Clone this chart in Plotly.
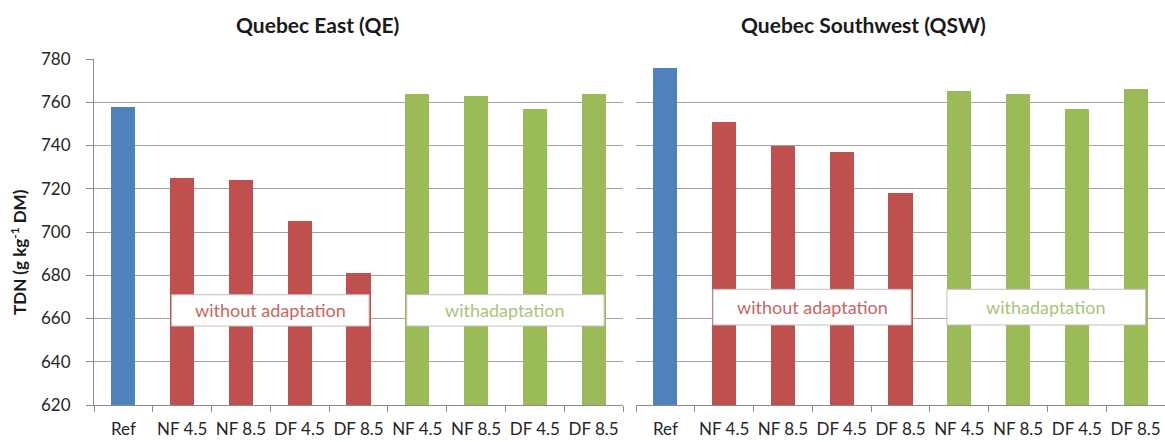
import plotly.graph_objects as go

# Scenario labels along each x axis
scenarios = ["Ref", "NF 4.5", "NF 8.5", "DF 4.5", "DF 8.5",
             "NF 4.5", "NF 8.5", "DF 4.5", "DF 8.5"]
# Group of each bar: reference, without adaptation, with adaptation
groups = ["ref", "without", "without", "without", "without",
          "with", "with", "with", "with"]

# TDN (g kg-1 DM) per scenario
tdn_qe = [758, 725, 724, 705, 681, 764, 763, 757, 764]
tdn_qsw = [776, 751, 740, 737, 718, 765, 764, 757, 766]

panel_titles = ["Quebec East (QE)", "Quebec Southwest (QSW)"]
box_labels = ["without adaptation", "withadaptation"]
y_ticks = [620, 640, 660, 680, 700, 720, 740, 760, 780]

group_colors = {"ref": "#4F81BD", "without": "#C0504D", "with": "#9BBB59"}
bar_colors = [group_colors[g] for g in groups]

W, H = 1165, 442
FONT = "Lato"
GRID = "#a3a3a3"
AXIS = "#8c8c8c"
TEXT = "#262626"


def px_x(p):
    return p / W


def px_y(p):
    return 1 - p / H


fig = go.Figure()
idx = list(range(len(scenarios)))
fig.add_trace(go.Bar(x=idx, y=tdn_qe, marker=dict(color=bar_colors, line=dict(width=0)),
                     width=0.41, xaxis="x", yaxis="y", showlegend=False))
fig.add_trace(go.Bar(x=idx, y=tdn_qsw, marker=dict(color=bar_colors, line=dict(width=0)),
                     width=0.41, xaxis="x2", yaxis="y2", showlegend=False))

ydom = [px_y(405), px_y(59)]
xaxis_common = dict(
    range=[-0.5, len(scenarios) - 0.5],
    tickmode="array", tickvals=idx, ticktext=scenarios,
    ticks="", showgrid=False, zeroline=False, automargin=False,
    showline=True, linecolor=AXIS, linewidth=1,
    ticklabelstandoff=9,
    tickfont=dict(family=FONT, size=17, color=TEXT),
    minor=dict(tickmode="array", tickvals=[i - 0.5 for i in range(len(scenarios) + 1)],
               ticks="outside", ticklen=6, tickcolor=AXIS, showgrid=False),
    fixedrange=True,
)
yaxis_common = dict(
    range=[620, 780], tickmode="array", tickvals=y_ticks,
    showgrid=True, gridcolor=GRID, gridwidth=1, zeroline=False,
    domain=ydom, fixedrange=True, automargin=False,
)

fig.update_layout(
    template="none",
    width=W, height=H,
    margin=dict(l=0, r=0, t=0, b=0, pad=0),
    paper_bgcolor="white", plot_bgcolor="white",
    bargap=0,
    xaxis=dict(domain=[px_x(94), px_x(623)], anchor="y", **xaxis_common),
    xaxis2=dict(domain=[px_x(636), 1.0], anchor="y2", **xaxis_common),
    yaxis=dict(anchor="x", showline=True, linecolor=AXIS, linewidth=1,
               ticks="outside", ticklen=7, tickcolor=AXIS, ticklabelstandoff=12,
               tickfont=dict(family=FONT, size=17, color=TEXT), **yaxis_common),
    yaxis2=dict(anchor="x2", showline=False, showticklabels=False, ticks="",
                **yaxis_common),
)

# Labelled boxes over the two scenario groups in each panel
box_specs = [
    ("x", "y", 0.82, 4.18, 656.5, 671.0),
    ("x", "y", 4.82, 8.18, 656.5, 671.0),
    ("x2", "y2", 0.81, 4.18, 657.0, 673.5),
    ("x2", "y2", 4.79, 8.17, 657.0, 673.5),
]
label_colors = ["#c86663", "#a9c47a"]
for k, (xr, yr, x0, x1, y0, y1) in enumerate(box_specs):
    fig.add_shape(type="rect", xref=xr, yref=yr, x0=x0, x1=x1, y0=y0, y1=y1,
                  fillcolor="white", line=dict(color="#bfbfbf", width=1), layer="above")
    fig.add_annotation(xref=xr, yref=yr, x=(x0 + x1) / 2, y=(y0 + y1) / 2,
                       xanchor="center", yanchor="middle",
                       text=box_labels[k % 2], showarrow=False,
                       font=dict(family=FONT, size=18, color=label_colors[k % 2]))

# Panel titles
for title, cx in zip(panel_titles, [317, 863]):
    fig.add_annotation(xref="paper", yref="paper", x=px_x(cx), y=px_y(24),
                       xanchor="center", yanchor="middle",
                       text=f"<b>{title}</b>", showarrow=False,
                       font=dict(family=FONT, size=21, color="#1a1a1a"))

# Y-axis title
fig.add_annotation(xref="paper", yref="paper", x=px_x(18), y=px_y(252),
                   xanchor="center", yanchor="middle",
                   text="<b>TDN (g kg<sup>-1</sup> DM)</b>", textangle=-90,
                   showarrow=False, font=dict(family=FONT, size=17, color="#1a1a1a"))

fig.write_html("out.html")
